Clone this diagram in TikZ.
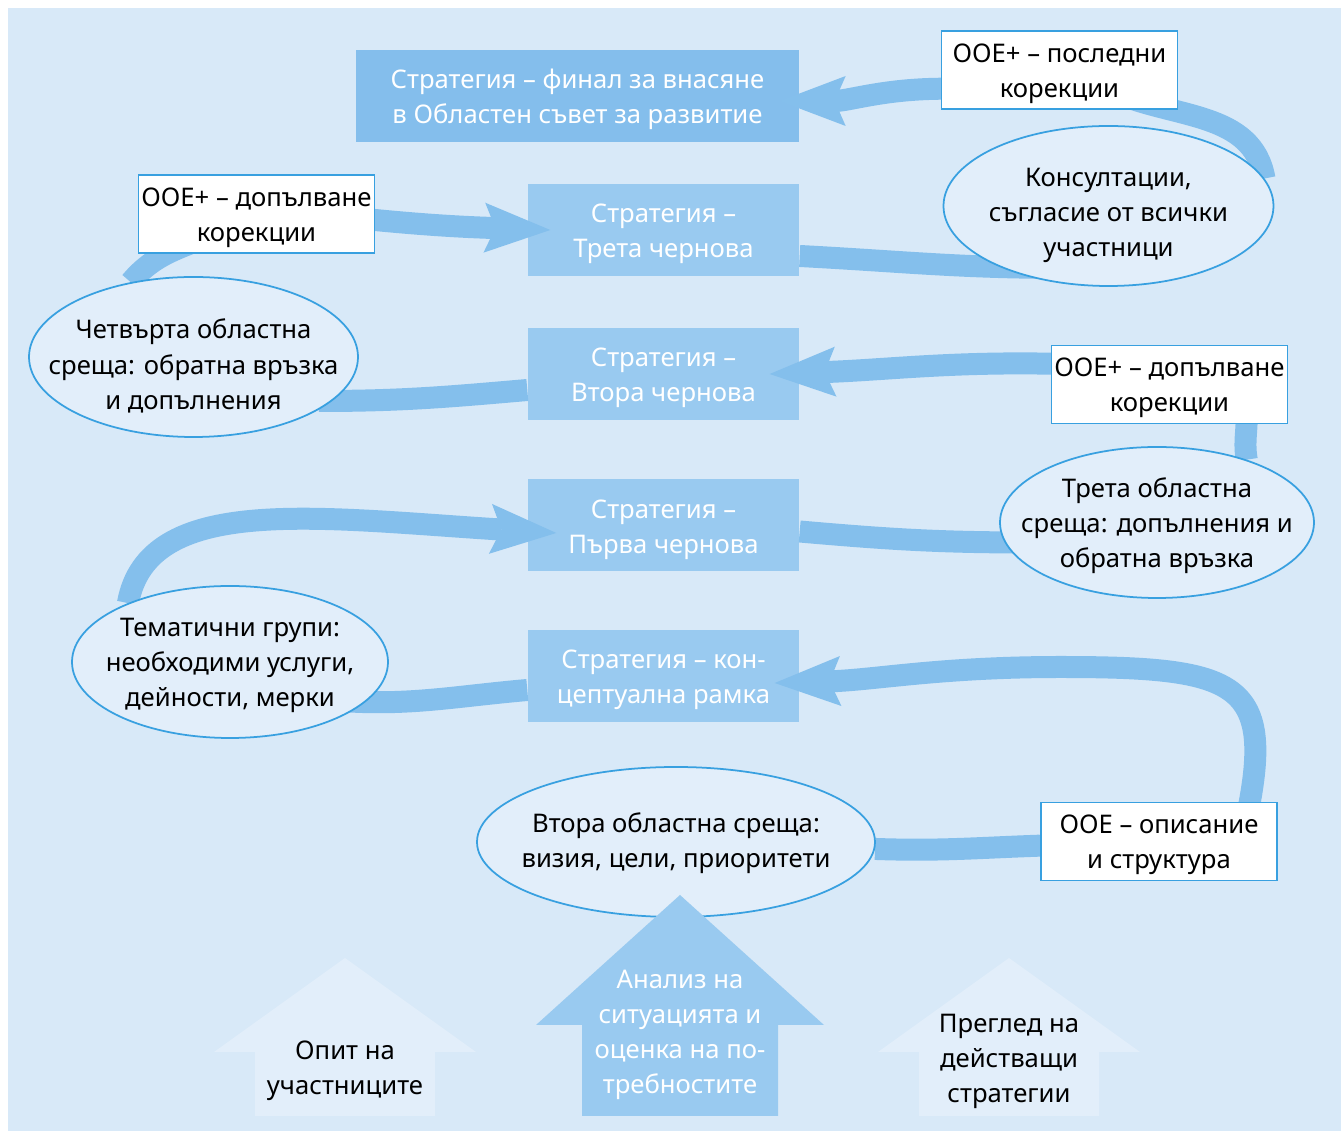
\documentclass[tikz,border=0pt]{standalone}
\usepackage{fontspec}
\setmainfont{Noto Sans}[Script=Cyrillic,Language=Bulgarian]
\usetikzlibrary{shapes.geometric,arrows.meta}

\definecolor{paper}{RGB}{216,233,248}
\definecolor{bandblue}{RGB}{132,191,236}
\definecolor{boxblue}{RGB}{153,202,240}
\definecolor{topblue}{RGB}{132,190,236}
\definecolor{softfill}{RGB}{226,238,250}
\definecolor{edgeblue}{RGB}{56,160,224}

\pgfdeclarelayer{bg}
\pgfdeclarelayer{front}
\pgfsetlayers{bg,main,front}

\begin{document}
\begin{tikzpicture}[
  font=\fontsize{7.3}{10}\selectfont,
  sink/.style={execute at begin node={\rule{0pt}{#1}}},
  strat/.style={rectangle, fill=boxblue, text=white, align=center, inner sep=0pt,
    minimum width=2.71cm, minimum height=0.92cm, sink=17.6pt},
  note/.style={rectangle, draw=edgeblue, line width=0.5pt, fill=white, align=center,
    inner sep=0pt, minimum width=2.36cm, minimum height=0.78cm, sink=17.4pt},
  meet/.style={ellipse, draw=edgeblue, line width=0.5pt, fill=softfill, align=center,
    inner xsep=-1cm, inner ysep=-0.5cm},
  flow/.style={draw=bandblue, line width=2.2mm},
  into/.style={flow, -{Stealth[length=6.6mm, width=5mm, inset=1.1mm, line width=0pt]}},
]
\useasboundingbox (0,0) rectangle (13.41,11.31);
\begin{pgfonlayer}{bg}
\fill[paper] (0.08,0) rectangle (13.41,11.23);
\end{pgfonlayer}

% strategy versions in the middle column
\node[strat, fill=topblue, minimum width=4.43cm] (final) at (5.775,10.35) {Стратегия – финал за внасяне\\в Областен съвет за развитие};
\node[strat] (draft3) at (6.635,9.01) {Стратегия –\\Трета чернова};
\node[strat] (draft2) at (6.635,7.57) {Стратегия –\\Втора чернова};
\node[strat] (draft1) at (6.635,6.055) {Стратегия –\\Първа чернова};
\node[strat] (frame) at (6.635,4.55) {Стратегия – кон-\\цептуална рамка};

\begin{pgfonlayer}{front}
% OOE boxes
\node[note] (lastfix) at (10.595,10.61) {ООЕ+ – последни\\корекции};
\node[note] (fixL) at (2.565,9.17) {ООЕ+ – допълване\\корекции};
\node[note] (fixR) at (11.695,7.465) {ООЕ+ – допълване\\корекции};
\node[note] (ooe) at (11.59,2.895) {ООЕ – описание\\и структура};
% meetings
\node[meet, sink=30.4pt, minimum width=3.30cm, minimum height=1.60cm] (consult) at (11.085,9.25) {Консултации,\\съгласие от всички\\участници};
\node[meet, sink=30.7pt, minimum width=3.29cm, minimum height=1.60cm] (meet4) at (1.935,7.74) {Четвърта областна\\среща: обратна връзка\\и допълнения};
\node[meet, sink=27.3pt, minimum width=3.14cm, minimum height=1.51cm] (meet3) at (11.57,6.085) {Трета областна\\среща: допълнения и\\обратна връзка};
\node[meet, sink=27.3pt, minimum width=3.16cm, minimum height=1.52cm] (groups) at (2.30,4.69) {Тематични групи:\\необходими услуги,\\дейности, мерки};
\node[meet, sink=16.5pt, minimum width=3.98cm, minimum height=1.50cm] (meet2) at (6.76,2.89) {Втора областна среща:\\визия, цели, приоритети};
% inputs at the bottom
\foreach \x in {3.45,10.09}{
  \fill[softfill] (\x-0.9,0.15) -- (\x-0.9,0.79) -- (\x-1.31,0.79) -- (\x,1.73)
    -- (\x+1.31,0.79) -- (\x+0.9,0.79) -- (\x+0.9,0.15) -- cycle;
}
\fill[boxblue] (5.82,0.15) -- (5.82,1.06) -- (5.36,1.06) -- (6.80,2.36)
  -- (8.24,1.06) -- (7.78,1.06) -- (7.78,0.15) -- cycle;
\node[align=center, sink=17.6pt] (exper) at (3.45,0.64) {Опит на\\участниците};
\node[align=center, sink=37.5pt, text=white] (needs) at (6.80,1.00) {Анализ на\\ситуацията и\\оценка на по-\\требностите};
\node[align=center, sink=27.6pt] (review) at (10.09,0.74) {Преглед на\\действащи\\стратегии};
\end{pgfonlayer}

% the loop, from the bottom up
\draw[into] ([shift={(-3.2mm,-2mm)}]ooe.north east) .. controls +(0.3,1.4) and +(1.8,0) .. (10.6,4.64)
  .. controls +(-1.2,0) and +(1.0,0.03) .. ([shift={(-2.5mm,-0.7mm)}]frame.east);
\draw[flow] (meet2) to[out=-2,in=182] (ooe);
\draw[flow] ([yshift=-1.4mm]frame.west) to[out=185,in=-5] ([shift={(-6mm,-3.8mm)}]groups.east);
\draw[into] (groups.150) .. controls +(0.2,1.1) and +(-2.4,0.15) .. ([shift={(2.9mm,-0.75mm)}]draft1.west);
\draw[flow] ([yshift=-0.6mm]draft1.east) to[out=-5,in=180] ([shift={(3mm,-2mm)}]meet3.west);
\draw[flow] (meet3.35) to[out=100,in=-80] ([shift={(-4.3mm,2mm)}]fixR.south east);
\draw[into] ([shift={(3mm,2mm)}]fixR.west) to[out=178,in=2] ([xshift=-3mm]draft2.east);
\draw[flow] ([yshift=-1.6mm]draft2.west) to[out=185,in=0] ([shift={(-4mm,-4.4mm)}]meet4.east);
\draw[flow] (meet4.130) to[out=50,in=205] ([shift={(-3.65mm,-1.7mm)}]fixL.center);
\draw[into] ([shift={(-2mm,-0.4mm)}]fixL.east) to[out=-6,in=178] ([xshift=2.3mm]draft3.west);
\draw[flow] ([yshift=-2.6mm]draft3.east) to[out=-3,in=180] ([shift={(-4.85mm,1.9mm)}]consult.south);
\draw[flow] (consult.10) to[out=100,in=-25] ([shift={(5mm,-2mm)}]lastfix.center);
\draw[into] ([shift={(2mm,-1.9mm)}]lastfix.west) to[out=178,in=0] ([shift={(-2mm,-0.5mm)}]final.east);
\end{tikzpicture}
\end{document}
